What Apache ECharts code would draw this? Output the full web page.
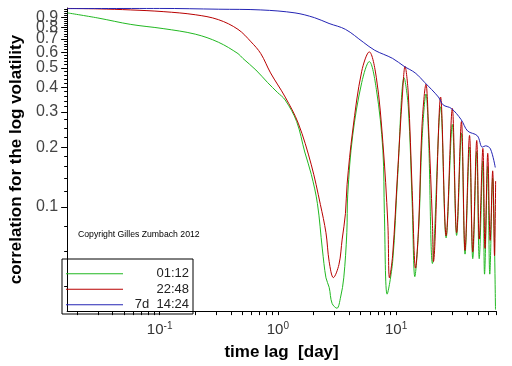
<!DOCTYPE html>
<html><head><meta charset="utf-8">
<script src="https://cdn.jsdelivr.net/npm/echarts@6/dist/echarts.min.js"></script>
<style>html,body{margin:0;padding:0;background:#fff}#c{width:512px;height:366px}</style>
</head><body><div id="c"></div>
<script>
const seriesNames = ['01:12', '22:48', '7d  14:24'];

const greenT = [0.0166,0.03,0.057,0.107,0.2,0.314,0.46,0.506,0.652,0.819,0.99,1.153,1.441,1.688,1.917,2.161,2.377,2.551,2.716,2.874,3.16,3.394,3.61,3.83,3.9,4.29,5.12,5.93,6.81,7.73,7.96,8.4,9.35,10.28,11.7,12.68,13.68,14.4,15.55,16.56,17.9,18.8,20.3,23.8,26.5,29.9,32.5,35.7,38.3,41.8,44.5,48.1,50.5,54.2,56,59.6,62,65.6,69.3];
const greenV = [0.945,0.891,0.827,0.788,0.739,0.673,0.59,0.558,0.488,0.422,0.377,0.345,0.269,0.189,0.146,0.104,0.0616,0.0441,0.0395,0.0328,0.031,0.0353,0.0441,0.0743,0.116,0.228,0.422,0.538,0.39,0.193,0.0929,0.0365,0.0532,0.138,0.446,0.319,0.104,0.0447,0.0788,0.216,0.37,0.23,0.052,0.319,0.07,0.26,0.072,0.235,0.058,0.2,0.055,0.19,0.055,0.17,0.046,0.16,0.046,0.14,0.0305];

const redT = [0.0166,0.03,0.057,0.107,0.2,0.314,0.46,0.593,0.717,0.867,1.153,1.486,1.917,2.288,2.551,2.716,2.947,3.285,3.5,3.73,3.85,4.29,5.12,5.93,6.81,7.73,8.51,8.79,9.35,10.28,11.32,11.9,12.68,13.68,14.6,15.55,16.56,17.9,18.8,20.3,20.7,23.8,26.5,29.9,32.5,35.7,38.3,41.8,44.5,48.1,50.5,54.2,56.5,59.6,62.5,65.6,68,69.5];
const redV = [0.995,0.99,0.978,0.959,0.925,0.874,0.781,0.676,0.59,0.472,0.357,0.264,0.163,0.103,0.0743,0.0532,0.0442,0.0514,0.069,0.0929,0.13,0.241,0.481,0.602,0.446,0.211,0.0831,0.0441,0.0573,0.146,0.37,0.509,0.37,0.121,0.0493,0.0831,0.255,0.414,0.255,0.0831,0.0532,0.357,0.0717,0.313,0.0743,0.269,0.0606,0.229,0.0594,0.216,0.069,0.197,0.062,0.186,0.068,0.152,0.057,0.135];

const blueT = [0.0166,0.1,0.316,0.717,1.395,2.04,2.71,3.73,5.28,6.6,9.35,11.7,14.5,17.5,22.8,25,29.3,35.5,40.3,48.7,53.6,57.1,62.8,69];
const blueV = [0.993,0.995,0.986,0.978,0.945,0.894,0.836,0.781,0.673,0.613,0.558,0.509,0.472,0.422,0.357,0.326,0.313,0.275,0.241,0.228,0.2,0.203,0.196,0.158];

const yLabelValues = [0.1,0.2,0.3,0.4,0.5,0.6,0.7,0.8,0.9];
const yLabelsOdd = [0.1,0.3,0.5,0.7,0.9];
const yLabelsEven = [0.2,0.4,0.6,0.8];
const yMinorTicks = [0.04,0.06,0.08,0.12,0.14,0.16,0.18,0.225,0.25,0.275,0.32,0.34,0.36,0.38,0.42,0.44,0.46,0.48,0.52,0.54,0.56,0.58,0.62,0.64,0.66,0.68,0.72,0.74,0.76,0.78,0.82,0.84,0.86,0.88,0.92,0.94,0.96,0.98];
const xLabelValues = [0.1,1,10];
const xTicks = [0.02,0.03,0.04,0.05,0.06,0.07,0.08,0.09,0.1,0.2,0.3,0.4,0.5,0.6,0.7,0.8,0.9,1,2,3,4,5,6,7,8,9,10,20,30,40,50,60,70];

const X_MIN = 0.0165, X_MAX = 70, Y_MIN = 0.03, Y_MAX = 1;
const colors = ['#22b822', '#b80000', '#2424b4'];

function pairs(t, v) { return t.map((x, i) => [x, v[i]]); }

const chart = echarts.init(document.getElementById('c'), null, {renderer: 'canvas'});
const labelFont = 'Liberation Sans, Arial, sans-serif';
const yLabelStyle = {
  margin: 9, color: '#444', fontSize: 16, fontFamily: labelFont,
  hideOverlap: false, showMinLabel: true, showMaxLabel: true, interval: 0,
  formatter: v => (Math.round(v * 10) / 10).toFixed(1)
};
chart.setOption({
  animation: false,
  backgroundColor: '#fff',
  grid: {left: 57, right: 16, top: 8, bottom: 45, containLabel: false},
  xAxis: [{
    type: 'log', logBase: 10, min: X_MIN, max: X_MAX, position: 'bottom',
    axisLine: {show: true, lineStyle: {color: '#000', width: 1}},
    axisTick: {show: true, customValues: xTicks, length: 4, lineStyle: {color: '#000'}},
    axisLabel: {
      customValues: xLabelValues, margin: 10, color: '#333', hideOverlap: false, interval: 0,
      formatter: v => '{b|10}{s|' + Math.round(Math.log10(v)) + '}',
      rich: {
        b: {fontSize: 15, fontFamily: labelFont, color: '#333', lineHeight: 18},
        s: {fontSize: 10, fontFamily: labelFont, color: '#333', verticalAlign: 'top', lineHeight: 18, padding: [0, 0, 8, 0]}
      }
    },
    splitLine: {show: false}, minorTick: {show: false},
    name: 'time lag  [day]', nameLocation: 'middle', nameGap: 22,
    nameTextStyle: {fontSize: 17, fontWeight: 'bold', color: '#000', fontFamily: labelFont}
  }],
  yAxis: [{
    type: 'log', logBase: 10, min: Y_MIN, max: Y_MAX, position: 'left',
    axisLine: {show: true, lineStyle: {color: '#000', width: 1}},
    axisTick: {show: true, customValues: yLabelValues, length: 6, lineStyle: {color: '#000'}, interval: 0},
    axisLabel: Object.assign({customValues: yLabelsOdd}, yLabelStyle),
    splitLine: {show: false},
    name: 'correlation for the log volatility', nameLocation: 'middle', nameGap: 36,
    nameTextStyle: {fontSize: 17, fontWeight: 'bold', color: '#000', fontFamily: labelFont}
  }, {
    type: 'log', logBase: 10, min: Y_MIN, max: Y_MAX, position: 'left',
    axisLine: {show: false},
    axisTick: {show: true, customValues: yMinorTicks, length: 3, lineStyle: {color: '#000'}, interval: 0},
    axisLabel: Object.assign({customValues: yLabelsEven}, yLabelStyle),
    splitLine: {show: false}
  }],
  legend: {
    orient: 'vertical', left: 62, top: 259, itemGap: 0, itemWidth: 57, itemHeight: 1,
    icon: 'rect', padding: [7, 4, 1.5, 4], borderColor: '#000', borderWidth: 1,
    data: seriesNames,
    formatter: n => '{r|' + n + '}',
    textStyle: {
      fontSize: 13, color: '#222', lineHeight: 15.5, fontFamily: labelFont,
      rich: {r: {width: 61, align: 'right', fontSize: 13, lineHeight: 15.5, color: '#222', fontFamily: labelFont}}
    }
  },
  graphic: [{
    type: 'text', left: 78, top: 230,
    style: {text: 'Copyright Gilles Zumbach 2012', fontSize: 8.7, fill: '#000', fontFamily: labelFont}
  }],
  series: [
    {name: seriesNames[0], type: 'line', data: pairs(greenT, greenV), showSymbol: false, smooth: 0.35,
     lineStyle: {color: colors[0], width: 1}, itemStyle: {color: colors[0]}},
    {name: seriesNames[1], type: 'line', data: pairs(redT, redV), showSymbol: false, smooth: 0.35,
     lineStyle: {color: colors[1], width: 1}, itemStyle: {color: colors[1]}},
    {name: seriesNames[2], type: 'line', data: pairs(blueT, blueV), showSymbol: false, smooth: 0.35,
     lineStyle: {color: colors[2], width: 1}, itemStyle: {color: colors[2]}}
  ]
});
</script></body></html>
